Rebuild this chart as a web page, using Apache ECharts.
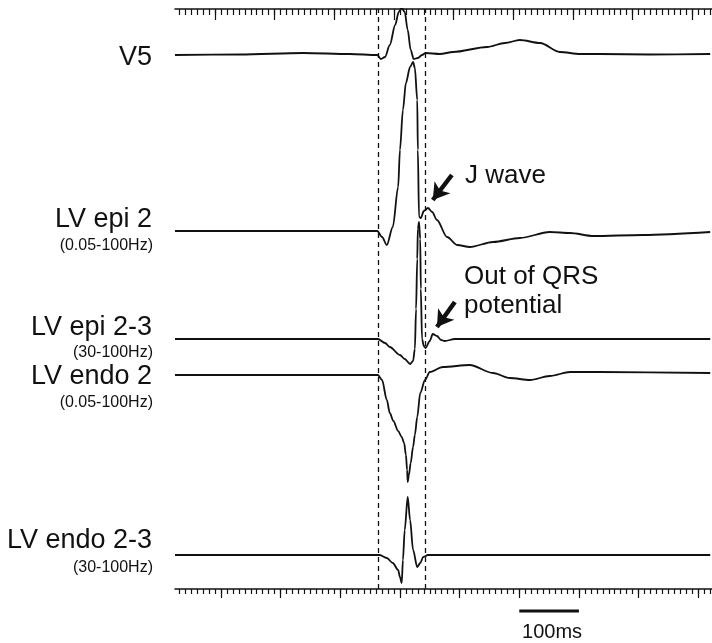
<!DOCTYPE html>
<html lang="en">
<head>
    <meta charset="UTF-8"/>
    <title>LV epicardial / endocardial recording</title>
    <script src="https://cdn.jsdelivr.net/npm/echarts@6/dist/echarts.min.js"></script>
    <style>
        html, body {
            margin: 0;
            padding: 0;
            background: #fff;
        }

        #chart {
            width: 712px;
            height: 643px;
        }
    </style>
</head>
<body>
<div id="chart"></div>
<script>
    // time in ms from the left edge of the sweep, amplitude (up = positive)
    const v5 = [[0, 0], [109, 0.5], [215, 2], [293, 1], [339, 0], [345, -4], [352, -2], [360, 10], [369, 30],
        [375, 43], [380, 47], [385, 43], [390, 25], [395, 5], [400, -4], [407, -3], [414, 0], [420, 2], [444, 1],
        [466, 3], [523, 8], [553, 12], [578, 15], [612, 12], [645, 3], [679, 1], [712, 1], [796, 0.5], [897, 1]];
    const lvEpi2 = [[0, 0], [210, 0], [339, 0], [347, -6], [355, -14], [365, 4], [374, 44], [377, 81], [382, 121],
        [387, 148], [394, 164], [399, 169], [402, 163], [406, 131], [407, 81], [409, 14], [412, 13], [417, 20],
        [424, 23], [431, 19], [439, 11], [456, -6], [473, -14], [494, -16], [533, -11], [578, -7], [628, -1],
        [662, -2], [701, -5], [784, -4], [897, -1]];
    const lvEpi23 = [[0, 0], [340, 0], [352, -4], [360, -8], [377, -16], [385, -20], [394, -25], [399, -22],
        [402, -10], [404, 30], [406, 80], [407, 110], [409, 117], [411, 100], [412, 50], [414, 0], [417, -7],
        [420, -9], [427, -2], [432, 5], [439, 3], [446, -1], [452, -2], [469, 0], [897, 0]];
    const lvEndo2 = [[0, 0], [340, 0], [347, -5], [355, -25], [360, -38], [366, -46], [374, -56], [380, -62],
        [384, -68], [387, -80], [389, -95], [390, -107], [392, -100], [395, -88], [399, -72], [402, -60],
        [406, -42], [411, -18], [419, -5], [427, 3], [449, 8], [494, 10], [533, 2], [561, -3], [595, -5],
        [628, -1], [662, 3], [712, 3], [897, 2]];
    const lvEndo23 = [[0, 0], [343, 0], [355, -3], [365, -8], [374, -15], [377, -22], [380, -28], [382, -5],
        [385, 25], [390, 58], [394, 35], [399, 5], [406, -12], [411, -8], [416, -2], [424, 0], [897, 0]];

    const traces = [v5, lvEpi2, lvEpi23, lvEndo2, lvEndo23];
    const traceNames = ['V5', 'LV epi 2', 'LV epi 2-3', 'LV endo 2', 'LV endo 2-3'];
    const filterNames = ['', '(0.05-100Hz)', '(30-100Hz)', '(0.05-100Hz)', '(30-100Hz)'];

    const qrsMarkers = [341, 420];
    const bottomMajor = [77, 177, 277, 377, 477, 577, 677, 777, 877];
    const topMajor = [67, 167, 267, 367, 467, 567, 667, 767, 867];
    const scaleBar = [577, 677];
    const scaleText = '100ms';

    // layout (pixels / axis units)
    const baselines = [534, 358, 250, 214, 34];
    const labelY = [58, 220, 328, 377, 541];
    const subY = [0, 246, 353, 403, 568];
    const FONT = '"Liberation Sans", Arial, sans-serif';

    const minorTicks = [];
    for (let t = 7; t <= 900; t += 10) minorTicks.push(t);

    function tickAxis(position, values, len, showLine) {
        return {
            type: 'value', position: position, min: 0, max: 900,
            axisLine: {show: showLine, onZero: false, lineStyle: {color: '#111', width: 1.5}},
            axisTick: {show: true, inside: position === 'top', length: len, customValues: values,
                lineStyle: {color: '#111', width: 1.2}},
            axisLabel: {show: false},
            splitLine: {show: false}
        };
    }

    const series = traces.map((tr, i) => ({
        name: traceNames[i],
        type: 'line',
        xAxisIndex: 0,
        data: tr.map(([t, a]) => [t, a + baselines[i]]),
        showSymbol: false,
        smooth: 0.3,
        smoothMonotone: 'x',
        lineStyle: {color: '#111', width: 1.8},
        silent: true,
        z: 3
    }));

    series.push({
        type: 'line', data: [], xAxisIndex: 0, silent: true,
        markLine: {
            symbol: 'none', silent: true, label: {show: false},
            lineStyle: {color: '#111', width: 1.3, type: [5, 4]},
            data: qrsMarkers.map(v => ({xAxis: v}))
        }
    });

    series.push({
        type: 'line', data: [], xAxisIndex: 0, silent: true,
        markLine: {
            symbol: ['none', 'arrow'], symbolSize: [15, 16], silent: true, label: {show: false},
            lineStyle: {color: '#111', width: 4.5, type: 'solid'},
            data: [
                [{coord: [464, 414]}, {coord: [432, 389]}],
                [{coord: [469, 287]}, {coord: [439, 262]}]
            ]
        }
    });

    const chart = echarts.init(document.getElementById('chart'));
    chart.setOption({
        backgroundColor: '#fff',
        animation: false,
        grid: {left: 175, right: 0, top: 9, height: 580},
        xAxis: [
            tickAxis('bottom', minorTicks, 5, true),
            tickAxis('bottom', bottomMajor, 9, false),
            tickAxis('top', minorTicks, 6, true),
            tickAxis('top', topMajor, 11, false)
        ],
        yAxis: {type: 'value', min: 0, max: 580, show: false},
        series: series
    });

    const graphics = [];
    traceNames.forEach((name, i) => {
        graphics.push({type: 'text', x: 152, y: labelY[i],
            style: {text: name, align: 'right', verticalAlign: 'middle', font: '27px ' + FONT, fill: '#111'}});
        if (filterNames[i]) {
            graphics.push({type: 'text', x: 153, y: subY[i],
                style: {text: filterNames[i], align: 'right', verticalAlign: 'middle', font: '16px ' + FONT, fill: '#111'}});
        }
    });
    graphics.push({type: 'text', x: 465, y: 176,
        style: {text: 'J wave', align: 'left', verticalAlign: 'middle', font: '26px ' + FONT, fill: '#111'}});
    graphics.push({type: 'text', x: 464, y: 277,
        style: {text: 'Out of QRS', align: 'left', verticalAlign: 'middle', font: '26px ' + FONT, fill: '#111'}});
    graphics.push({type: 'text', x: 464, y: 306,
        style: {text: 'potential', align: 'left', verticalAlign: 'middle', font: '26px ' + FONT, fill: '#111'}});

    const p0 = chart.convertToPixel({xAxisIndex: 0}, scaleBar[0]);
    const p1 = chart.convertToPixel({xAxisIndex: 0}, scaleBar[1]);
    graphics.push({type: 'line', shape: {x1: p0, y1: 611, x2: p1, y2: 611},
        style: {stroke: '#111', lineWidth: 3}});
    graphics.push({type: 'text', x: (p0 + p1) / 2 + 3, y: 632,
        style: {text: scaleText, align: 'center', verticalAlign: 'middle', font: '20px ' + FONT, fill: '#111'}});

    chart.setOption({graphic: graphics});
</script>
</body>
</html>
